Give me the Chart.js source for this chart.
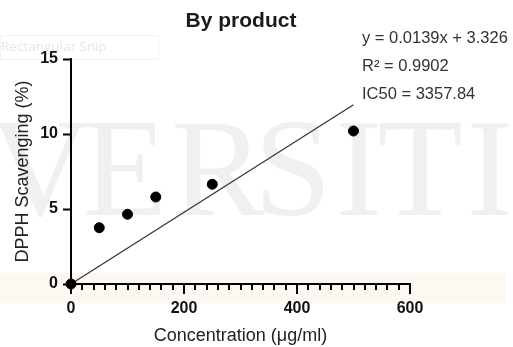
<!DOCTYPE html>
<html>
<head>
<meta charset="utf-8">
<script src="https://cdn.jsdelivr.net/npm/chart.js@4/dist/chart.umd.min.js"></script>
<style>
html,body{margin:0;padding:0;background:#fff;}
#wrap{width:513px;height:347px;position:relative;}
</style>
</head>
<body>
<div id="wrap"><canvas id="c" width="513" height="347"></canvas></div>
<script>
// ---- data ----
const concentrations = [0, 50, 100, 150, 250, 500];
const scavenging = [0, 3.75, 4.65, 5.8, 6.65, 10.2];
const fitX = [0, 500];
const fitY = [0, 11.95];
const chartTitle = "By product";
const xTitle = "Concentration (\u03BCg/ml)";
const yTitle = "DPPH Scavenging (%)";
const annotations = ["y = 0.0139x + 3.326", "R\u00B2 = 0.9902", "IC50 = 3357.84"];
const xMajorTicks = [0, 200, 400, 600];
const yTicks = [0, 5, 10, 15];
const watermark = ["V", "E", "R", "S", "I", "T", "I"];

const pts = concentrations.map((x, i) => ({x, y: scavenging[i]}));
const fit = fitX.map((x, i) => ({x, y: fitY[i]}));

const bgPlugin = {
  id: 'bg',
  beforeDraw(chart) {
    const ctx = chart.ctx;
    ctx.save();
    ctx.fillStyle = '#fff';
    ctx.fillRect(0, 0, 513, 347);
    // faint peach band
    ctx.fillStyle = '#fef8f2';
    ctx.fillRect(0, 273, 505, 30);
    // faint snip box
    ctx.strokeStyle = '#f0f3f8';
    ctx.lineWidth = 1;
    ctx.strokeRect(0.5, 35.5, 158, 24);
    ctx.fillStyle = '#e2e8ef';
    ctx.font = '13.5px "Open Sans", "Liberation Sans", sans-serif';
    ctx.textBaseline = 'middle';
    ctx.fillText('Rectangular Snip', 1, 47);
    // watermark letters
    ctx.fillStyle = '#f0f0f0';
    ctx.font = '140px "Liberation Serif", "DejaVu Serif", serif';
    ctx.textBaseline = 'alphabetic';
    ctx.textAlign = 'center';
    const cx = [40, 125, 218, 293, 359, 420, 490];
    watermark.forEach((l, i) => ctx.fillText(l, cx[i], 215));
    ctx.restore();
  },
  afterDraw(chart) {
    const ctx = chart.ctx;
    const xs = chart.scales.x;
    ctx.save();
    // minor/major tick marks on x
    ctx.strokeStyle = '#000';
    ctx.lineWidth = 2;
    const y0 = chart.chartArea.bottom;
    for (let v = 0; v <= 600; v += 20) {
      const px = Math.round(xs.getPixelForValue(v));
      const major = xMajorTicks.includes(v);
      ctx.beginPath();
      ctx.moveTo(px, y0);
      ctx.lineTo(px, y0 + (major ? 10 : 6));
      ctx.stroke();
    }
    // title
    ctx.fillStyle = '#1a1a1a';
    ctx.font = 'bold 21px "Liberation Sans", Arial, sans-serif';
    ctx.textAlign = 'center';
    ctx.textBaseline = 'middle';
    ctx.fillText(chartTitle, 241, 21);
    // annotations
    ctx.fillStyle = '#333';
    ctx.font = '16.5px "Liberation Sans", Arial, sans-serif';
    ctx.textAlign = 'left';
    const ys = [38, 66, 94];
    annotations.forEach((t, i) => ctx.fillText(t, 362, ys[i]));
    ctx.restore();
  }
};

new Chart(document.getElementById('c'), {
  type: 'scatter',
  data: {
    datasets: [
      {
        label: 'fit',
        data: fit,
        showLine: true,
        borderColor: '#333',
        borderWidth: 1.2,
        pointRadius: 0,
        fill: false,
        order: 2
      },
      {
        label: 'data',
        data: pts,
        backgroundColor: '#000',
        borderColor: '#000',
        pointRadius: 5,
        pointHoverRadius: 5,
        order: 1
      }
    ]
  },
  options: {
    responsive: false,
    animation: false,
    clip: false,
    layout: {padding: {top: 59, right: 103, bottom: 0, left: 0}},
    plugins: {legend: {display: false}, tooltip: {enabled: false}, title: {display: false}},
    scales: {
      x: {
        type: 'linear',
        min: 0, max: 600,
        afterFit(s) { s.height = 63; },
        afterBuildTicks(s) { s.ticks = xMajorTicks.map(v => ({value: v})); },
        border: {display: true, color: '#000', width: 2},
        grid: {display: true, drawOnChartArea: false, drawTicks: false, tickLength: 0, color: 'rgba(0,0,0,0)'},
        ticks: {
          color: '#111', padding: 15, maxRotation: 0, autoSkip: false,
          font: {family: '"Liberation Sans", Arial, sans-serif', size: 16, weight: 'bold'}
        },
        title: {
          display: true, text: xTitle, color: '#222',
          font: {family: '"Liberation Sans", Arial, sans-serif', size: 18, lineHeight: 1.2},
          padding: {top: 0, bottom: 0}
        }
      },
      y: {
        type: 'linear',
        min: 0, max: 15,
        afterFit(s) { s.width = 71; },
        afterBuildTicks(s) { s.ticks = yTicks.map(v => ({value: v})); },
        border: {display: true, color: '#000', width: 2},
        grid: {display: true, drawOnChartArea: false, drawTicks: true, tickLength: 8, tickWidth: 2, tickColor: '#000'},
        ticks: {
          color: '#111', padding: 5,
          font: {family: '"Liberation Sans", Arial, sans-serif', size: 16, weight: 'bold'}
        },
        title: {
          display: true, text: yTitle, color: '#222',
          font: {family: '"Liberation Sans", Arial, sans-serif', size: 18, lineHeight: 1.2},
          padding: {top: 12, bottom: 0}
        }
      }
    }
  },
  plugins: [bgPlugin]
});
</script>
</body>
</html>
